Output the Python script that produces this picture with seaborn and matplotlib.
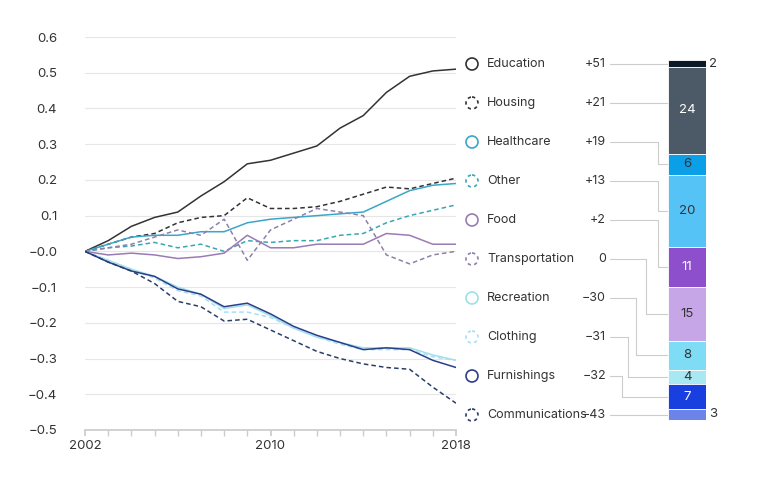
import matplotlib
matplotlib.use("Agg")
import matplotlib.pyplot as plt
import seaborn as sns
import pandas as pd
import numpy as np
from matplotlib.patches import Circle

years = list(range(2002, 2019))
categories = ["Education", "Housing", "Healthcare", "Other", "Food", "Transportation",
              "Recreation", "Clothing", "Furnishings", "Communications"]
education = [0, 0.03, 0.07, 0.095, 0.11, 0.155, 0.195, 0.245, 0.255, 0.275, 0.295, 0.345, 0.38, 0.445, 0.49, 0.505, 0.51]
housing = [0, 0.02, 0.04, 0.05, 0.08, 0.095, 0.10, 0.15, 0.12, 0.12, 0.125, 0.14, 0.16, 0.18, 0.175, 0.19, 0.205]
healthcare = [0, 0.02, 0.04, 0.045, 0.045, 0.055, 0.055, 0.08, 0.09, 0.095, 0.1, 0.105, 0.11, 0.14, 0.17, 0.185, 0.19]
other = [0, 0.01, 0.015, 0.025, 0.01, 0.02, 0.0, 0.03, 0.025, 0.03, 0.03, 0.045, 0.05, 0.08, 0.1, 0.115, 0.13]
food = [0, -0.01, -0.005, -0.01, -0.02, -0.015, -0.005, 0.045, 0.01, 0.01, 0.02, 0.02, 0.02, 0.05, 0.045, 0.02, 0.02]
transportation = [0, 0.01, 0.02, 0.04, 0.06, 0.045, 0.09, -0.025, 0.06, 0.09, 0.12, 0.11, 0.1, -0.01, -0.035, -0.01, 0.0]
recreation = [0, -0.025, -0.05, -0.07, -0.1, -0.12, -0.16, -0.15, -0.18, -0.215, -0.24, -0.255, -0.27, -0.27, -0.27, -0.29, -0.305]
clothing = [0, -0.025, -0.05, -0.075, -0.11, -0.125, -0.17, -0.17, -0.185, -0.215, -0.24, -0.26, -0.275, -0.275, -0.275, -0.295, -0.305]
furnishings = [0, -0.03, -0.055, -0.07, -0.105, -0.12, -0.155, -0.145, -0.175, -0.21, -0.235, -0.255, -0.275, -0.27, -0.275, -0.305, -0.325]
communications = [0, -0.03, -0.055, -0.09, -0.14, -0.155, -0.195, -0.19, -0.22, -0.25, -0.28, -0.3, -0.315, -0.325, -0.33, -0.38, -0.425]
series = [education, housing, healthcare, other, food, transportation, recreation, clothing, furnishings, communications]
change_labels = ["+51", "+21", "+19", "+13", "+2", "0", "\u221230", "\u221231", "\u221232", "\u221243"]
shares = [2, 24, 6, 20, 11, 15, 8, 4, 7, 3]

line_colors = ["#333333", "#333333", "#3aa6c8", "#3aa6b0", "#9a7bb5", "#8e80a8",
               "#9fe0e8", "#a8dff2", "#2a3e8a", "#2a3e6a"]
dashed = [False, True, False, True, False, True, False, True, False, True]
bar_colors = ["#0b1a26", "#4b5a66", "#0b9fe8", "#56c3f7", "#8d4fcc", "#c6a6e6",
              "#7fdcf5", "#a8e8f3", "#1a3fe0", "#6c84e8"]
bar_text_colors = ["#333", "white", "#333", "#333", "white", "#333", "#333", "#333", "white", "#333"]

sns.set_theme(style="white")
plt.rcParams['font.family'] = ['Inter', 'DejaVu Sans']

fig = plt.figure(figsize=(7.67, 4.8), dpi=100)
ax = fig.add_axes([85/767, 1-430/480, (456-85)/767, (430-37)/480])

rows = []
for name, vals in zip(categories, series):
    for y, v in zip(years, vals):
        rows.append({"year": y, "value": v, "cat": name})
df = pd.DataFrame(rows)
for name, c, d in zip(categories, line_colors, dashed):
    sub = df[df.cat == name]
    sns.lineplot(data=sub, x="year", y="value", ax=ax, color=c, lw=1.1,
                 linestyle=(0, (3, 2)) if d else "-", legend=False)

ax.set_xlim(2002, 2018)
ax.set_ylim(-0.5, 0.6)
yt = np.round(np.arange(-0.5, 0.61, 0.1), 1)
ax.set_yticks(yt)
ax.set_yticklabels([("\u2212" if t <= 0 else "") + f"{abs(t):.1f}" for t in yt], fontsize=9.5, color="#333")
ax.set_xticks([2002, 2010, 2018])
ax.set_xticklabels(["2002", "2010", "2018"], fontsize=9.5, color="#333")
ax.set_xticks(years, minor=True)
ax.tick_params(axis="x", which="both", length=4, color="#ccc", direction="out", bottom=True)
ax.tick_params(axis="y", length=0, pad=20)
ax.grid(axis="y", color="#e6e6e6", lw=0.8)
for s in ["top", "right", "left"]:
    ax.spines[s].set_visible(False)
ax.spines["bottom"].set_color("#ccc")
ax.set_xlabel("")
ax.set_ylabel("")

# stacked bar
bx = fig.add_axes([668/767, 1-420/480, 38/767, 360/480])
cum = np.concatenate([[0], np.cumsum(shares)])
for i, s in enumerate(shares):
    bx.bar(0, s, bottom=cum[i], color=bar_colors[i], width=1.0, edgecolor="white", lw=0.6)
    if s >= 4:
        bx.text(0, cum[i] + s/2, str(s), ha="center", va="center", fontsize=9.5, color=bar_text_colors[i])
bx.set_xlim(-0.5, 0.5)
bx.set_ylim(100, 0)
bx.axis("off")

# overlay in pixel coords
ov = fig.add_axes([0, 0, 1, 1], zorder=-1)
ov.set_xlim(0, 767)
ov.set_ylim(480, 0)
ov.axis("off")
ov2 = fig.add_axes([0, 0, 1, 1])
ov2.set_xlim(0, 767)
ov2.set_ylim(480, 0)
ov2.axis("off")
elbow_x = [None, None, 658, 658, 658, 646, 636, 628, 622, None]
for i, name in enumerate(categories):
    ly = 64 + 39 * i
    ov2.add_patch(Circle((472, ly), 6, fill=False, ec=line_colors[i], lw=1.2,
                         ls=(0, (2, 2)) if dashed[i] else "-"))
    ov2.text(487, ly, name, va="center", ha="left", fontsize=9, color="#333")
    ov2.text(606, ly, change_labels[i], va="center", ha="right", fontsize=9, color="#333")
    seg_y = 60 + 3.6 * (cum[i] + shares[i] / 2)
    if elbow_x[i] is None:
        ov.plot([610, 668], [ly, ly], color="#cccccc", lw=0.8)
    else:
        ov.plot([610, elbow_x[i], elbow_x[i], 668], [ly, ly, seg_y, seg_y], color="#cccccc", lw=0.8)
ov2.text(709, 64, "2", va="center", ha="left", fontsize=9.5, color="#333")
ov2.text(709, 414, "3", va="center", ha="left", fontsize=9.5, color="#333")

fig.savefig("out.png", dpi=100)
